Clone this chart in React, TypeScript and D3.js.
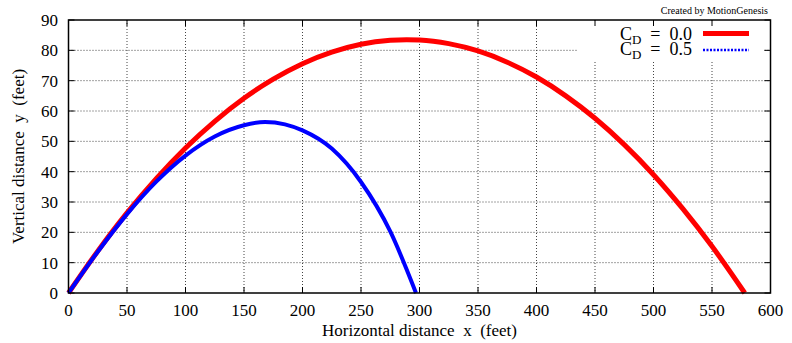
import React from 'react';
import * as d3 from 'd3';

// C_D = 0.0 (no drag)
const noDragX = [0, 25, 50, 75, 100, 125, 150, 175, 200, 225, 250, 275, 289, 300, 325, 350, 375, 400, 425, 450, 475, 500, 525, 550, 578];
const noDragY = [0, 13.8, 26.4, 37.7, 47.8, 56.6, 64.2, 70.5, 75.6, 79.4, 82.0, 83.3, 83.5, 83.4, 82.2, 79.8, 76.1, 71.2, 65.0, 57.6, 48.9, 39.0, 27.8, 15.4, 0];

// C_D = 0.5
const dragX = [0, 25, 50, 75, 100, 125, 150, 168, 185, 200, 225, 250, 275, 297];
const dragY = [0, 13.6, 26.0, 36.7, 45.3, 51.6, 55.3, 56.4, 55.6, 53.6, 47.6, 36.6, 20.3, 0];

const xTicks = [0, 50, 100, 150, 200, 250, 300, 350, 400, 450, 500, 550, 600];
const yTicks = [0, 10, 20, 30, 40, 50, 60, 70, 80, 90];

const W = 792;
const H = 343;
const left = 68.5;
const right = 770.5;
const top = 20;
const bottom = 293;
const serif = { fontFamily: "'Liberation Serif'" };
const sp = '\u00A0';

const App: React.FC = () => {
  const x = d3.scaleLinear().domain([0, 600]).range([left, right]);
  const y = d3.scaleLinear().domain([0, 90]).range([bottom, top]);

  const line = d3
    .line<[number, number]>()
    .x((d) => x(d[0]))
    .y((d) => y(d[1]))
    .curve(d3.curveMonotoneX);

  const redPts = noDragX.map((v, i) => [v, noDragY[i]] as [number, number]);
  const bluePts = dragX.map((v, i) => [v, dragY[i]] as [number, number]);

  const tickLen = 6;

  return (
    <svg width={W} height={H} style={{ position: 'absolute', left: 0, top: 0, background: '#fff' }}>
      {/* grid */}
      <g stroke="#444" strokeWidth={1} strokeDasharray="1,2">
        {xTicks.slice(1, -1).map((t) => (
          <line key={'gx' + t} x1={x(t)} x2={x(t)} y1={top} y2={bottom} />
        ))}
        {yTicks.slice(1, -1).map((t) => (
          <line key={'gy' + t} x1={left} x2={right} y1={y(t)} y2={y(t)} />
        ))}
      </g>

      {/* legend background */}
      <rect x={577} y={top + 1} width={186} height={40} fill="#fff" />

      {/* ticks */}
      <g stroke="#000" strokeWidth={1}>
        {xTicks.map((t) => (
          <g key={'tx' + t}>
            <line x1={x(t)} x2={x(t)} y1={bottom} y2={bottom - tickLen} />
            <line x1={x(t)} x2={x(t)} y1={top} y2={top + tickLen} />
          </g>
        ))}
        {yTicks.map((t) => (
          <g key={'ty' + t}>
            <line x1={left} x2={left + tickLen} y1={y(t)} y2={y(t)} />
            <line x1={right} x2={right - tickLen} y1={y(t)} y2={y(t)} />
          </g>
        ))}
      </g>

      {/* curves */}
      <path d={line(redPts) || ''} fill="none" stroke="#ff0000" strokeWidth={5} strokeLinejoin="round" />
      <path d={line(bluePts) || ''} fill="none" stroke="#0000ff" strokeWidth={4} strokeLinejoin="round" />

      {/* frame */}
      <rect x={left} y={top} width={right - left} height={bottom - top} fill="none" stroke="#000" strokeWidth={1.5} />

      {/* tick labels */}
      {xTicks.map((t) => (
        <text key={'lx' + t} x={x(t)} y={316} textAnchor="middle" fontSize={17} style={serif}>
          {t}
        </text>
      ))}
      {yTicks.map((t) => (
        <text key={'ly' + t} x={58} y={y(t)} dy="0.36em" textAnchor="end" fontSize={17} style={serif}>
          {t}
        </text>
      ))}

      {/* axis titles */}
      <text x={(left + right) / 2} y={336} textAnchor="middle" fontSize={17} style={serif}>
        {`Horizontal distance ${sp}x${sp} (feet)`}
      </text>
      <text
        transform={`translate(24,${(top + bottom) / 2}) rotate(-90)`}
        textAnchor="middle"
        fontSize={17}
        style={serif}
      >
        {`Vertical distance ${sp}y${sp} (feet)`}
      </text>

      <text x={768} y={14} textAnchor="end" fontSize={10} style={serif}>
        Created by MotionGenesis
      </text>

      {/* legend */}
      <text x={692} y={40} textAnchor="end" fontSize={18} style={serif}>
        C<tspan fontSize={13} dy={4}>D</tspan>
        <tspan dy={-4}>{`${sp}${sp}=${sp}${sp}0.0`}</tspan>
      </text>
      <text x={692} y={55} textAnchor="end" fontSize={18} style={serif}>
        C<tspan fontSize={13} dy={4}>D</tspan>
        <tspan dy={-4}>{`${sp}${sp}=${sp}${sp}0.5`}</tspan>
      </text>
      <line x1={703} x2={749} y1={33.5} y2={33.5} stroke="#ff0000" strokeWidth={5} />
      <line x1={703} x2={749} y1={50} y2={50} stroke="#0000ff" strokeWidth={2.5} strokeDasharray="2,1.5" />
    </svg>
  );
};

export default App;
